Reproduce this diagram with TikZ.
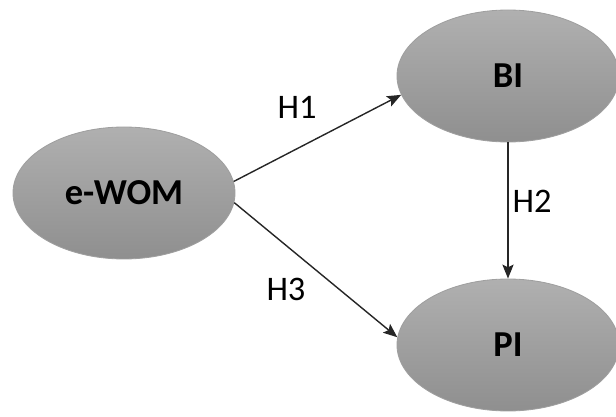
\documentclass[tikz,border=0pt]{standalone}
\usepackage{fontspec}
\setmainfont{Carlito}
\usepackage{tikz}
\usetikzlibrary{shapes.geometric, arrows.meta}

\begin{document}
\begin{tikzpicture}[>={Stealth[length=10pt,width=8pt,inset=2pt]},
        construct/.style={ellipse, draw=gray!75, line width=0.6pt, top color=gray!62, bottom color=gray!88,
            minimum width=5.55cm, minimum height=3.3cm, font=\fontsize{26}{30}\selectfont\bfseries},
        hyp/.style={font=\fontsize{24.5}{28}\selectfont},
        link/.style={->, line width=1pt, black!85}]
        \useasboundingbox (0,0) rectangle (15.4,-10.425);
        \begin{scope}
            \node [construct] (ewom) at (3.1,-4.825) {e-WOM};
            \node [construct] (bi) at (12.7,-1.9) {BI};
            \node [construct] (pi) at (12.7,-8.625) {PI};
            \node [hyp] (h1) at (7.425,-2.675) {H1};
            \node [hyp] (h2) at (13.3,-5.025) {H2};
            \node [hyp] (h3) at (7.15,-7.225) {H3};
            \draw [link] (ewom.6) -- (bi.190);
            \draw [link] (bi.south) -- (pi.north);
            \draw [link] (ewom.-5) -- (pi.176);
        \end{scope}

    \end{tikzpicture}
\end{document}
